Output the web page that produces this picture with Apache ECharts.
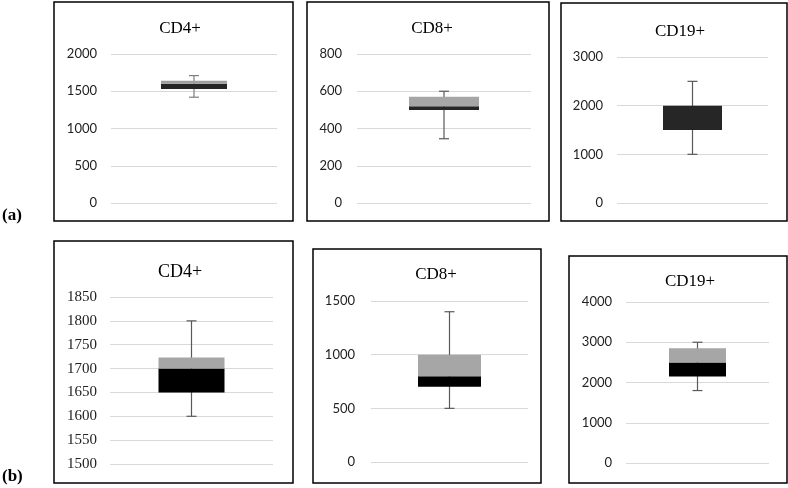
<!DOCTYPE html>
<html><head><meta charset="utf-8">
<script src="https://cdn.jsdelivr.net/npm/echarts@6/dist/echarts.min.js"></script>
<style>html,body{margin:0;padding:0;background:#fff}#c{width:788px;height:488px}</style>
</head><body><div id="c"></div>
<script>
const panelTitles = ['CD4+', 'CD8+', 'CD19+', 'CD4+', 'CD8+', 'CD19+'];
const mins    = [1420, 345, 1000, 1600, 500, 1800];
const q1      = [1530, 500, 1500, 1650, 700, 2150];
const medians = [1600, 520, 2000, 1700, 800, 2500];
const q3      = [1640, 570, 2000, 1723, 1000, 2850];
const maxs    = [1710, 600, 2500, 1800, 1400, 3000];
const axisMin  = [0, 0, 0, 1500, 0, 0];
const axisMax  = [2000, 800, 3000, 1850, 1500, 4000];
const axisStep = [500, 200, 1000, 50, 500, 1000];
const rowLabels = ['(a)', '(b)'];

// layout (pixels)
const grids = [
  {left: 111, top: 54, width: 166, height: 149},
  {left: 357, top: 54, width: 174, height: 149},
  {left: 617, top: 57, width: 151, height: 146},
  {left: 110, top: 297, width: 163, height: 167},
  {left: 371, top: 301, width: 157, height: 161},
  {left: 626, top: 302, width: 143, height: 161}
];
const borders = [
  [54, 2, 239, 219], [307, 2, 242, 219], [561, 3, 226, 218],
  [54, 241, 239, 242], [313, 249, 228, 234], [569, 256, 218, 227]
];
const titlePos = [[175, 24], [427, 24], [675, 27], [175, 267], [431, 270], [685, 277]];
const titleSize = [17, 17, 17, 18, 17, 17];
const boxW = [66, 70, 59, 66, 63, 57];
const lowColor = ['#262626', '#262626', '#262626', '#000000', '#000000', '#000000'];
const highColor = ['#a0a0a0', '#a6a6a6', '#a6a6a6', '#a6a6a6', '#a6a6a6', '#a6a6a6'];
const whiskColor = ['#7f7f7f', '#595959', '#595959', '#595959', '#595959', '#595959'];
const labelFont = ['Lato', 'Lato', 'Lato', 'Liberation Serif', 'Lato', 'Lato'];
const labelSize = [13, 13, 13, 15, 13, 13];
const labelMargin = [14, 15, 14, 13, 16, 14];

const option = {
  animation: false,
  grid: [], xAxis: [], yAxis: [], series: [], title: [], graphic: []
};
for (let i = 0; i < 6; i++) {
  option.grid.push(Object.assign({containLabel: false}, grids[i]));
  option.xAxis.push({type: 'category', gridIndex: i, data: [''],
    axisLine: {show: false}, axisTick: {show: false}, axisLabel: {show: false}, splitLine: {show: false}});
  option.yAxis.push({type: 'value', gridIndex: i, min: axisMin[i], max: axisMax[i], interval: axisStep[i],
    axisLine: {show: false}, axisTick: {show: false},
    axisLabel: {color: '#222', fontFamily: labelFont[i], fontSize: labelSize[i], margin: labelMargin[i],
      formatter: function (v) { return String(v); }},
    splitLine: {lineStyle: {color: '#d9d9d9', width: 1}}});
  const st = 's' + i;
  option.series.push({type: 'custom', xAxisIndex: i, yAxisIndex: i, z: 1,
    data: [[0, mins[i], maxs[i]]], encode: {x: 0, y: [1, 2]},
    renderItem: (function (col) { return function (params, api) {
      const lo = api.coord([api.value(0), api.value(1)]);
      const hi = api.coord([api.value(0), api.value(2)]);
      const c = 5;
      const s = {stroke: col, lineWidth: 1.2};
      return {type: 'group', children: [
        {type: 'line', shape: {x1: lo[0], y1: lo[1], x2: hi[0], y2: hi[1]}, style: s},
        {type: 'line', shape: {x1: lo[0] - c, y1: lo[1], x2: lo[0] + c, y2: lo[1]}, style: s},
        {type: 'line', shape: {x1: hi[0] - c, y1: hi[1], x2: hi[0] + c, y2: hi[1]}, style: s}
      ]};
    }; })(whiskColor[i])});
  option.series.push({type: 'bar', xAxisIndex: i, yAxisIndex: i, stack: st, barWidth: boxW[i], z: 2,
    itemStyle: {color: 'rgba(0,0,0,0)'}, data: [q1[i]]});
  option.series.push({type: 'bar', xAxisIndex: i, yAxisIndex: i, stack: st, barWidth: boxW[i], z: 2,
    itemStyle: {color: lowColor[i]}, data: [medians[i] - q1[i]]});
  option.series.push({type: 'bar', xAxisIndex: i, yAxisIndex: i, stack: st, barWidth: boxW[i], z: 2,
    itemStyle: {color: highColor[i]}, data: [q3[i] - medians[i]]});
  option.title.push({text: panelTitles[i], left: titlePos[i][0], top: titlePos[i][1], textAlign: 'center',
    textVerticalAlign: 'middle',
    textStyle: {fontFamily: 'Liberation Serif', fontWeight: 'normal', fontSize: titleSize[i], color: '#000'}});
  option.graphic.push({type: 'rect', shape: {x: borders[i][0], y: borders[i][1], width: borders[i][2], height: borders[i][3]},
    style: {fill: 'none', stroke: '#000', lineWidth: 1.5}, z: 10});
}
option.graphic.push({type: 'text', left: 2, top: 207, style: {text: rowLabels[0], font: 'bold 17px "Liberation Serif"', fill: '#000'}});
option.graphic.push({type: 'text', left: 2, top: 468, style: {text: rowLabels[1], font: 'bold 17px "Liberation Serif"', fill: '#000'}});

const chart = echarts.init(document.getElementById('c'), null, {renderer: 'canvas'});
chart.setOption(option);
</script></body></html>
